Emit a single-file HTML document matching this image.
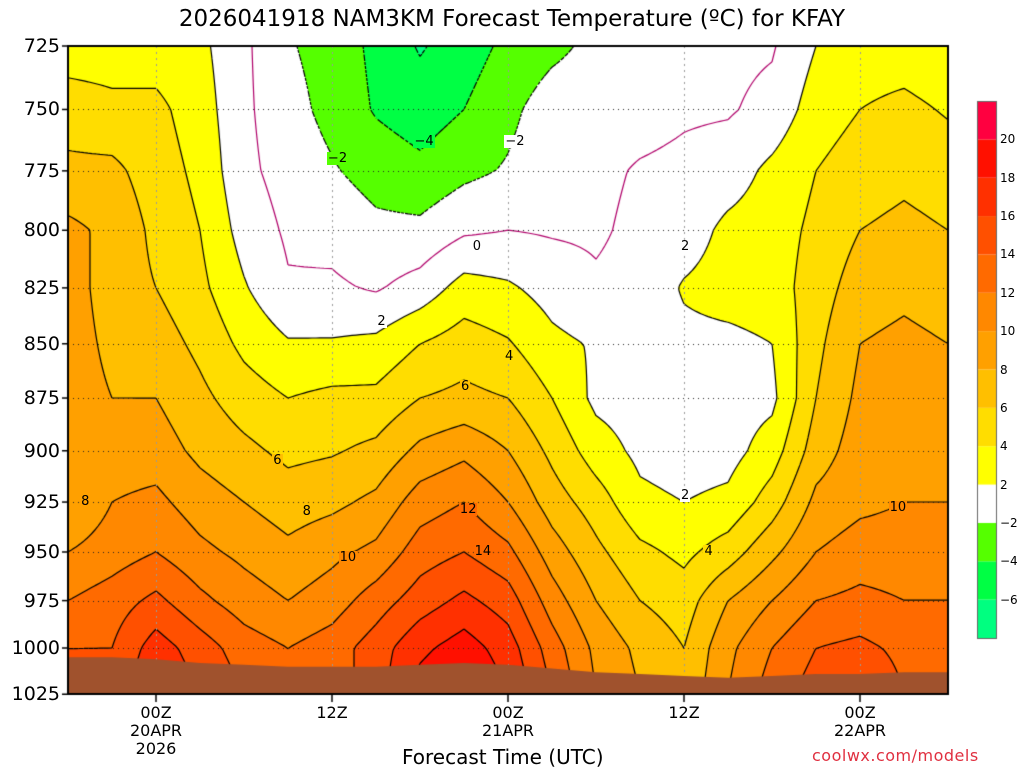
<!DOCTYPE html>
<html><head><meta charset="utf-8"><style>
body{margin:0;background:#fff;width:1024px;height:768px;overflow:hidden;position:relative;font-family:"DejaVu Sans","Liberation Sans",sans-serif;}
.t{position:absolute;color:#000;white-space:nowrap;}
.yl{position:absolute;left:0;width:60px;text-align:right;font-size:19px;line-height:19px;}
.xl{position:absolute;width:100px;text-align:center;font-size:16px;line-height:18px;}
.ll{position:absolute;left:1000px;font-size:12px;line-height:12px;}
.cl{position:absolute;font-size:13px;line-height:13px;padding:0 1px;}
</style></head><body>
<div class="t" style="left:0;width:1024px;text-align:center;top:6px;font-size:23px;">2026041918 NAM3KM Forecast Temperature (ºC) for KFAY</div>
<canvas id="c" width="1024" height="768" style="position:absolute;left:0;top:0"></canvas>
<div id="labels"></div>
<div id="yaxis"></div>
<div id="xaxis"></div>
<div class="t" style="left:402px;top:745px;font-size:20px;">Forecast Time (UTC)</div>
<div class="t" style="left:812px;top:746px;font-size:16px;color:#e03040;letter-spacing:0.5px">coolwx.com/models</div>
<div id="legend"></div>
<script>
const levels=[725,750,775,800,825,850,875,900,925,950,975,1000,1025];
const timesH=[0,3,6,9,12,15,18,21,24,27,30,33,36,39,42,45,48,51,54,57,60];
const xTickLabels=[["00Z","20APR","2026"],["12Z"],["00Z","21APR"],["12Z"],["00Z","22APR"]];
const xTickHours=[6,18,30,42,54];
const surfaceP=[1005,1005,1006,1008,1009,1010,1010,1010,1009,1008,1009,1011,1013,1014,1015,1016,1015,1014,1014,1013,1013];
const tempByTime=[
[3,5,6.5,8.5,9,9,9,9,8,10,12,14,15],
[3,4.5,6.5,7.5,7,7.5,8,9,10,11,13,14,15],
[3,4.5,5,5.5,6,7,8,9,10.5,12,14.5,17,18],
[2.5,3,3.5,4,4.5,5.5,6.5,7.5,9,10.5,12.5,15,16],
[0.4,0.4,0.5,1.2,2.2,3.5,5,6.5,8,9.5,11,13,14],
[-1.8,-1.3,-0.8,-0.3,0.2,2.2,4,5.5,7,8.5,10,12,13],
[-2.8,-2.6,-1.8,-0.6,0.3,2.2,4.5,5.8,7.5,9.5,11,13,13],
[-4.5,-4.2,-2.8,-1.5,-0.2,2.5,4.5,6.5,8.5,10.5,13,15,15],
[-6.2,-5,-3.5,-1.5,0.8,4,6,8.5,11,13,15,17.5,19],
[-5,-4,-2.5,-0.3,2.8,5,6.5,9.5,12,14,16.5,19,20.5],
[-3.5,-2.5,-1.8,0,2.3,4.2,6,8,10,12.5,15,17,18],
[-2.5,-1,-0.6,-0.2,1.2,2.5,4,5.5,7,9,11,13,14],
[-1.5,-0.8,-0.5,-0.3,0.3,1.8,1.5,3,5,6.5,8,9.5,10],
[-1,-0.8,0.2,0.5,0.7,1,1,1.5,2.5,4.5,6,7.5,8],
[-0.5,-0.3,0.5,1,2.2,1.5,1.5,1,2,3.5,5,6,6.5],
[-0.5,-0.2,1,2.5,2.8,1.5,1,1.2,2.5,5,8,9.5,10],
[-0.2,0.6,2.5,3,3,2,1.5,3,5,7.5,10,12,13],
[2,3,4,4.5,5,5.5,6,7,8.5,10,12,14,15],
[3,4,5,6,7,8,8.5,9,9.5,11,12.5,14.5,16],
[3,4.5,5.5,6.5,7.5,8.5,9,9.5,10,11,12,13.5,14],
[2.5,3.8,5,6,7,8,9.5,10,10,11,12,13.5,14]];
const binEdges=[-6,-4,-2,2,4,6,8,10,12,14,16,18,20];
const binColors=["#00ff80","#00ff44","#55ff00","#ffffff","#ffff00","#ffdd00","#ffbf00","#ffa000","#ff8800","#ff6a00","#ff5000","#ff3000","#ff1000","#ff0040"];
const contourVals=[-6,-4,-2,0,2,4,6,8,10,12,14,16,18,20];
const labelText=["-2","-4","-2","0","2","4","6","6","8","10","12","14","2","2","4","10","8"];
const labelHour=[18.2,24.1,30.3,27.8,21.3,30,27,14.2,16.2,19,27.2,28.2,42,42,43.6,56.5,1.1];
const labelP=[770,763,763,807,840,856,870,905,930,953,929,950,807,922,950,928,925];

const L=68,R=948,T=46,B=694,W=R-L,H=B-T,K=1872;
function yOf(p){return T+Math.log(p/725)*K;}
function xOf(h){return L+h/60*W;}
const lv=levels.map(p=>Math.log(p));
function tempAt(px,py){
  const h=(px-L)/W*60; let i=h/3; if(i<0)i=0; if(i>timesH.length-1.0001)i=timesH.length-1.0001;
  const i0=Math.floor(i),fi=i-i0;
  const lp=Math.log(725)+(py-T)/K;
  let j=0; while(j<lv.length-2&&lp>lv[j+1])j++;
  let fj=(lp-lv[j])/(lv[j+1]-lv[j]); fj=Math.max(0,Math.min(1,fj));
  const a=tempByTime[i0][j],b=tempByTime[i0][j+1],c=tempByTime[i0+1][j],d=tempByTime[i0+1][j+1];
  return (a*(1-fj)+b*fj)*(1-fi)+(c*(1-fj)+d*fj)*fi;
}
function colorIdx(v){let k=0;while(k<binEdges.length&&v>=binEdges[k])k++;return k;}
const cv=document.getElementById('c'),ctx=cv.getContext('2d');
const rgb=binColors.map(c=>[parseInt(c.substr(1,2),16),parseInt(c.substr(3,2),16),parseInt(c.substr(5,2),16)]);
const img=ctx.createImageData(W,H);
for(let y=0;y<H;y++)for(let x=0;x<W;x++){const c=rgb[colorIdx(tempAt(L+x+0.5,T+y+0.5))];const o=(y*W+x)*4;img.data[o]=c[0];img.data[o+1]=c[1];img.data[o+2]=c[2];img.data[o+3]=255;}
ctx.putImageData(img,L,T);
const S=4,nx=Math.ceil(W/S)+1,ny=Math.ceil(H/S)+1,G=[];
for(let j=0;j<ny;j++){G[j]=[];for(let i=0;i<nx;i++)G[j][i]=tempAt(L+Math.min(i*S,W),T+Math.min(j*S,H));}
contourVals.forEach(cval=>{
  ctx.beginPath();
  for(let j=0;j<ny-1;j++)for(let i=0;i<nx-1;i++){
    const v=[G[j][i],G[j][i+1],G[j+1][i+1],G[j+1][i]];
    const P=[[i,j],[i+1,j],[i+1,j+1],[i,j+1]];const pts=[];
    for(let e=0;e<4;e++){const a=v[e],b=v[(e+1)%4];if((a<cval)!==(b<cval)){const f=(cval-a)/(b-a);const p=P[e],q=P[(e+1)%4];pts.push([L+(p[0]+(q[0]-p[0])*f)*S,T+(p[1]+(q[1]-p[1])*f)*S]);}}
    for(let k=0;k+1<pts.length;k+=2){ctx.moveTo(pts[k][0],pts[k][1]);ctx.lineTo(pts[k+1][0],pts[k+1][1]);}
  }
  ctx.lineWidth=1.2;ctx.strokeStyle=cval===0?'#b0006a':'#000';
  ctx.setLineDash(cval<0?[3,3]:[]);ctx.stroke();
});
ctx.setLineDash([]);
ctx.strokeStyle='#222';ctx.lineWidth=1;ctx.setLineDash([1,4]);
levels.forEach(p=>{ctx.beginPath();ctx.moveTo(L,Math.round(yOf(p))+0.5);ctx.lineTo(R,Math.round(yOf(p))+0.5);ctx.stroke();});
ctx.strokeStyle='#999';ctx.setLineDash([2,4]);
xTickHours.forEach(h=>{ctx.beginPath();ctx.moveTo(Math.round(xOf(h))+0.5,T);ctx.lineTo(Math.round(xOf(h))+0.5,B);ctx.stroke();});
ctx.setLineDash([]);
ctx.beginPath();ctx.moveTo(L,B);
timesH.forEach((h,i)=>ctx.lineTo(xOf(h),yOf(surfaceP[i])));
ctx.lineTo(R,B);ctx.closePath();ctx.fillStyle='#a0522d';ctx.fill();
ctx.strokeStyle='#999';ctx.setLineDash([1,4]);
ctx.beginPath();ctx.moveTo(L,Math.round(yOf(1025))+0.5);ctx.lineTo(R,Math.round(yOf(1025))+0.5);ctx.stroke();
ctx.setLineDash([]);
ctx.strokeStyle='#000';ctx.lineWidth=2;ctx.strokeRect(L,T,W,H);
ctx.lineWidth=1.5;
levels.forEach(p=>{const y=yOf(p);ctx.beginPath();ctx.moveTo(L-6,y);ctx.lineTo(L,y);ctx.stroke();});
xTickHours.forEach(h=>{const x=xOf(h);ctx.beginPath();ctx.moveTo(x,B);ctx.lineTo(x,B+8);ctx.stroke();});
const lgT=101,lgB=638,bh=(lgB-lgT)/binColors.length;
binColors.forEach((c,k)=>{ctx.fillStyle=c;ctx.fillRect(977,lgB-(k+1)*bh,19,bh);});
ctx.strokeStyle='#666';ctx.lineWidth=1;ctx.strokeRect(977.5,lgT+0.5,19,lgB-lgT);
const lg=document.getElementById('legend');
binEdges.forEach((e,k)=>{const d=document.createElement('div');


d.className='ll';d.textContent=e<0?'\u2212'+(-e):e;d.style.top=(lgB-(k+1)*bh-6)+'px';lg.appendChild(d);});
const ya=document.getElementById('yaxis');
levels.forEach(p=>{const d=document.createElement('div');


d.className='yl';d.textContent=p;d.style.top=(yOf(p)-9)+'px';ya.appendChild(d);});
const xa=document.getElementById('xaxis');
xTickHours.forEach((h,i)=>{const d=document.createElement('div');


d.className='xl';d.innerHTML=xTickLabels[i].join('<br>');d.style.left=(xOf(h)-50)+'px';d.style.top='704px';xa.appendChild(d);});
const lb=document.getElementById('labels');
labelText.forEach((s,i)=>{const d=document.createElement('div');


d.className='cl';d.textContent=s.replace('-','\u2212');
const x=xOf(labelHour[i]),y=yOf(labelP[i]);
d.style.left=(x-4*s.length)+'px';d.style.top=(y-7)+'px';
d.style.background=binColors[colorIdx(tempAt(x,y))];
lb.appendChild(d);});
</script>
</body></html>
